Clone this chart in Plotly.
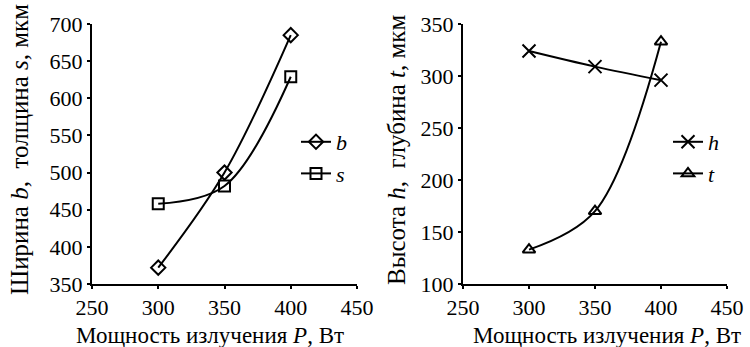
import plotly.graph_objects as go

P = [300, 350, 400]
b_vals = [372, 500, 685]
s_vals = [458, 482, 629]
h_vals = [324, 309, 296]
t_vals = [133, 170, 333]

xticks = [250, 300, 350, 400, 450]
yticks_left = [350, 400, 450, 500, 550, 600, 650, 700]
yticks_right = [100, 150, 200, 250, 300, 350]

W, H = 750, 347
FONT = "Liberation Serif"

def px(x):
    return x / W

def py(y):
    return 1 - y / H

fig = go.Figure()

line = dict(color="black", width=2, shape="spline", smoothing=1)
fig.add_trace(go.Scatter(x=P, y=b_vals, mode="lines+markers", name="b", line=line,
                         marker=dict(symbol="diamond-open", size=11, color="black", line=dict(width=2)),
                         xaxis="x", yaxis="y", legend="legend"))
fig.add_trace(go.Scatter(x=P, y=s_vals, mode="lines+markers", name="s", line=line,
                         marker=dict(symbol="square-open", size=11, color="black", line=dict(width=2)),
                         xaxis="x", yaxis="y", legend="legend"))
fig.add_trace(go.Scatter(x=P, y=h_vals, mode="lines+markers", name="h", line=line,
                         marker=dict(symbol="x-thin-open", size=13, color="black", line=dict(width=2, color="black")),
                         xaxis="x2", yaxis="y2", legend="legend2"))
fig.add_trace(go.Scatter(x=P, y=t_vals, mode="lines+markers", name="t", line=line,
                         marker=dict(symbol="triangle-up-open", size=11, color="black", line=dict(width=2)),
                         xaxis="x2", yaxis="y2", legend="legend2"))

axis_common = dict(showgrid=False, zeroline=False, showline=True, linecolor="black", linewidth=2,
                   ticks="outside", ticklen=3, tickwidth=1.5, tickcolor="black", automargin=False,
                   tickfont=dict(family=FONT, size=22, color="black"))

ydom = [py(284), py(24)]
legend_common = dict(xanchor="left", yanchor="top", bgcolor="rgba(0,0,0,0)",
                     font=dict(family=FONT, size=22, color="black", style="italic"), itemwidth=30,
                     tracegroupgap=0)
fig.update_layout(
    width=W, height=H,
    margin=dict(l=0, r=0, t=0, b=0, autoexpand=False),
    paper_bgcolor="white", plot_bgcolor="white",
    font=dict(family=FONT, color="black"),
    xaxis=dict(domain=[px(92), px(357)], range=[250, 450], tickvals=xticks, anchor="y", **axis_common),
    yaxis=dict(domain=ydom, range=[350, 700], tickvals=yticks_left, anchor="x", **axis_common),
    xaxis2=dict(domain=[px(463), px(727)], range=[250, 450], tickvals=xticks, anchor="y2", **axis_common),
    yaxis2=dict(domain=ydom, range=[100, 350], tickvals=yticks_right, anchor="x2", **axis_common),
    legend=dict(x=px(296), y=py(121), **legend_common),
    legend2=dict(x=px(668), y=py(121), **legend_common),
)

ann = dict(xref="paper", yref="paper", showarrow=False, xanchor="center", yanchor="middle")
ytitle_font = dict(family=FONT, size=25, color="black")
xtitle_font = dict(family=FONT, size=23, color="black")
fig.add_annotation(text="Ширина <i>b</i>,  толщина <i>s</i>, мкм", x=px(19), y=py(150),
                   textangle=-90, font=ytitle_font, **ann)
fig.add_annotation(text="Высота <i>h</i>,  глубина <i>t</i>, мкм", x=px(396), y=py(150),
                   textangle=-90, font=ytitle_font, **ann)
fig.add_annotation(text="Мощность излучения <i>P</i>, Вт", x=px(210), y=py(335),
                   font=xtitle_font, **ann)
fig.add_annotation(text="Мощность излучения <i>P</i>, Вт", x=px(607), y=py(335),
                   font=xtitle_font, **ann)

fig.write_html("out.html")
